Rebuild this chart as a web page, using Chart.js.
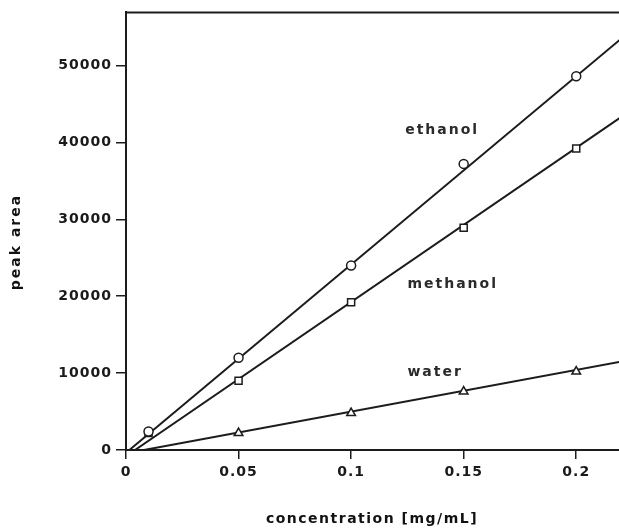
<!DOCTYPE html>
<html>
<head>
<meta charset="utf-8">
<script src="https://cdn.jsdelivr.net/npm/chart.js@4.4.1/dist/chart.umd.min.js"></script>
<style>
    body { margin: 0; background: #fff; }
    #wrap { width: 619px; height: 530px; position: relative; }
</style>
</head>
<body>
<div id="wrap"><canvas id="peakChart"></canvas></div>
<script>
// concentrations [mg/mL] for the measured points
const ethanolConc = [0.01, 0.05, 0.1, 0.15, 0.2];
const ethanolArea = [2400, 12000, 24000, 37200, 48600];

const methanolConc = [0.01, 0.05, 0.1, 0.15, 0.2];
const methanolArea = [2200, 9000, 19200, 28900, 39200];

const waterConc = [0.05, 0.1, 0.15, 0.2];
const waterArea = [2200, 4800, 7600, 10200];

// calibration lines (start / end)
const ethanolFitConc = [0.0015, 0.22];
const ethanolFitArea = [0, 53500];
const methanolFitConc = [0.004, 0.22];
const methanolFitArea = [0, 43300];
const waterFitConc = [0.008, 0.22];
const waterFitArea = [0, 11500];

const seriesNames = ['ethanol', 'methanol', 'water'];

const xTicks = [0, 0.05, 0.1, 0.15, 0.2];
const yTicks = [0, 10000, 20000, 30000, 40000, 50000];

const xTitle = 'concentration [mg/mL]';
const yTitle = 'peak area';

function toPoints(xs, ys) {
    return xs.map((x, i) => ({ x: x, y: ys[i] }));
}

const ink = '#1c1c1c';
const FONT = "'DejaVu Sans', 'Liberation Sans', sans-serif";

function fitLine(xs, ys) {
    return {
        type: 'line',
        data: toPoints(xs, ys),
        borderColor: ink,
        borderWidth: 2,
        pointRadius: 0,
        fill: false,
        order: 2
    };
}

function markers(xs, ys, style, r) {
    return {
        type: 'scatter',
        data: toPoints(xs, ys),
        pointStyle: style,
        pointRadius: r,
        pointBackgroundColor: '#fff',
        pointBorderColor: ink,
        pointBorderWidth: 1.5,
        showLine: false,
        order: 1
    };
}

// where the series names sit, in data units
const nameAnchors = [
    { x: 0.124, y: 41600 },
    { x: 0.125, y: 21500 },
    { x: 0.125, y: 10100 }
];

const decorPlugin = {
    id: 'decor',
    beforeDraw(chart) {
        chart.ctx.letterSpacing = '1px';
    },
    afterDraw(chart) {
        const ctx = chart.ctx;
        const area = chart.chartArea;
        const xs = chart.scales.x;
        const ys = chart.scales.y;

        ctx.save();
        // top frame line
        ctx.strokeStyle = ink;
        ctx.lineWidth = 2;
        ctx.beginPath();
        ctx.moveTo(area.left, area.top);
        ctx.lineTo(area.right, area.top);
        ctx.stroke();

        // series names
        ctx.fillStyle = '#2a2a2a';
        ctx.font = 'bold 14px ' + FONT;
        ctx.letterSpacing = '2px';
        ctx.textAlign = 'left';
        ctx.textBaseline = 'middle';
        seriesNames.forEach((name, i) => {
            ctx.fillText(name, xs.getPixelForValue(nameAnchors[i].x), ys.getPixelForValue(nameAnchors[i].y));
        });

        // axis titles
        ctx.fillStyle = '#111';
        ctx.letterSpacing = '1.5px';
        ctx.textAlign = 'center';
        ctx.fillText(xTitle, 372, 519);

        ctx.translate(16, 242);
        ctx.rotate(-Math.PI / 2);
        ctx.letterSpacing = '2px';
        ctx.fillText(yTitle, 0, 0);
        ctx.restore();
    }
};

new Chart(document.getElementById('peakChart'), {
    data: {
        datasets: [
            markers(ethanolConc, ethanolArea, 'circle', 4.5),
            markers(methanolConc, methanolArea, 'rect', 5),
            markers(waterConc, waterArea, 'triangle', 5),
            fitLine(ethanolFitConc, ethanolFitArea),
            fitLine(methanolFitConc, methanolFitArea),
            fitLine(waterFitConc, waterFitArea)
        ]
    },
    options: {
        responsive: true,
        maintainAspectRatio: false,
        animation: false,
        layout: { autoPadding: false, padding: { top: 12, right: 0, left: 0, bottom: 0 } },
        plugins: {
            legend: { display: false },
            tooltip: { enabled: false }
        },
        scales: {
            x: {
                type: 'linear',
                min: 0,
                max: 0.219,
                afterFit: (s) => { s.height = 80; },
                afterBuildTicks: (s) => { s.ticks = xTicks.map(v => ({ value: v })); },
                border: { display: true, color: ink, width: 2 },
                grid: { drawOnChartArea: false, drawTicks: true, tickLength: 9, color: ink, lineWidth: 1.5 },
                ticks: {
                    padding: 5,
                    color: '#1a1a1a',
                    font: { family: FONT, size: 14, weight: 'bold' },
                    callback: (v) => String(v)
                }
            },
            y: {
                type: 'linear',
                min: 0,
                max: 56900,
                afterFit: (s) => { s.width = 126; },
                afterBuildTicks: (s) => { s.ticks = yTicks.map(v => ({ value: v })); },
                border: { display: true, color: ink, width: 2 },
                grid: { drawOnChartArea: false, drawTicks: true, tickLength: 10, color: ink, lineWidth: 1.5 },
                ticks: {
                    padding: 4,
                    color: '#1a1a1a',
                    font: { family: FONT, size: 14, weight: 'bold' },
                    callback: (v) => String(v)
                }
            }
        }
    },
    plugins: [decorPlugin]
});
</script>
</body>
</html>
